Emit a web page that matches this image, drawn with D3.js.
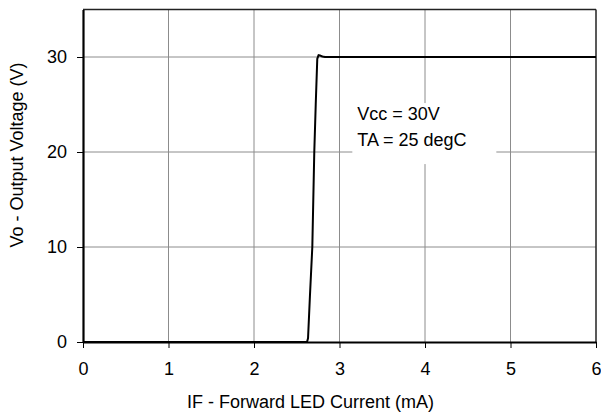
<!DOCTYPE html>
<html>
<head>
<meta charset="utf-8">
<script src="https://cdn.jsdelivr.net/npm/d3@7"></script>
<style>
  body { margin: 0; background: #fff; }
  svg { display: block; font-family: Arial, "Liberation Sans", sans-serif; }
  .grid line { stroke: #8c8c8c; stroke-width: 1; }
  .axis path, .axis line { stroke: #000; }
  .axis text { font-size: 18px; fill: #000; font-family: Arial, "Liberation Sans", sans-serif; }
</style>
</head>
<body>
<div id="plot"></div>
<script>
// transfer curve
var currentMA = [0, 2.62, 2.632, 2.655, 2.682, 2.705, 2.722, 2.74, 2.755, 2.775, 2.80, 2.83, 6];
var voltageV = [0, 0, 0.4, 5, 10, 20, 25, 29.8, 30.2, 30.15, 30.05, 30, 30];

var xTicks = [0, 1, 2, 3, 4, 5, 6];
var yTicks = [0, 10, 20, 30];
var notes = ["Vcc = 30V", "TA = 25 degC"];

var W = 601, H = 414;
var margin = {t: 9.5, r: 5, b: 72, l: 83};
var width = W - margin.l - margin.r,
    height = H - margin.t - margin.b;

var svg = d3.select('#plot').append('svg')
    .attr('width', W)
    .attr('height', H);

var x = d3.scaleLinear().domain([0, 6]).range([0, width]);
var y = d3.scaleLinear().domain([0, 35]).range([height, 0]);

var g = svg.append('g').attr('transform', 'translate(' + margin.l + ',' + margin.t + ')');

// gridlines
var grid = g.append('g').attr('class', 'grid');
grid.selectAll('.gx').data(xTicks.slice(1, -1)).enter().append('line')
    .attr('x1', function(d){ return x(d); }).attr('x2', function(d){ return x(d); })
    .attr('y1', 0).attr('y2', height);
grid.selectAll('.gy').data(yTicks.slice(1)).enter().append('line')
    .attr('x1', 0).attr('x2', width)
    .attr('y1', function(d){ return y(d); }).attr('y2', function(d){ return y(d); });

// white box behind the note
var boxX = x(3.15), boxY = y(25.15);
g.append('rect')
    .attr('x', boxX).attr('y', boxY)
    .attr('width', 144).attr('height', 61)
    .attr('fill', '#fff');

g.selectAll('.note').data(notes).enter().append('text')
    .attr('x', boxX + 5)
    .attr('y', function(d, i){ return boxY + 17 + i * 25.7; })
    .attr('font-size', 18)
    .text(function(d){ return d; });

// frame: top and right
g.append('line').attr('x1', 0).attr('x2', width).attr('y1', 0).attr('y2', 0)
    .attr('stroke', '#222').attr('stroke-width', 1.5);
g.append('line').attr('x1', width).attr('x2', width).attr('y1', 0).attr('y2', height)
    .attr('stroke', '#222').attr('stroke-width', 1.5);

// axes
var axisX = d3.axisBottom(x).tickValues(xTicks).tickFormat(d3.format('d'))
    .tickSizeInner(6).tickSizeOuter(0).tickPadding(14);
var axisY = d3.axisLeft(y).tickValues(yTicks).tickFormat(d3.format('d'))
    .tickSizeInner(6).tickSizeOuter(0).tickPadding(10);

g.append('g').attr('class', 'axis axis-x')
    .attr('transform', 'translate(0,' + height + ')')
    .call(axisX);
g.append('g').attr('class', 'axis axis-y').call(axisY);

g.selectAll('.axis .domain').attr('stroke-width', 2.2);
g.selectAll('.axis .tick line').attr('stroke-width', 1);

// curve
var line = d3.line()
    .x(function(d, i){ return x(currentMA[i]); })
    .y(function(d, i){ return y(voltageV[i]); });

g.append('path')
    .datum(currentMA)
    .attr('fill', 'none')
    .attr('stroke', '#000')
    .attr('stroke-width', 2)
    .attr('stroke-linejoin', 'round')
    .attr('d', line);

// axis titles
svg.append('text')
    .attr('x', 310.5)
    .attr('y', 408)
    .attr('text-anchor', 'middle')
    .attr('font-size', 18)
    .text('IF - Forward LED Current (mA)');

svg.append('text')
    .attr('transform', 'translate(23,155) rotate(-90)')
    .attr('text-anchor', 'middle')
    .attr('font-size', 18)
    .text('Vo - Output Voltage (V)');
</script>
</body>
</html>
